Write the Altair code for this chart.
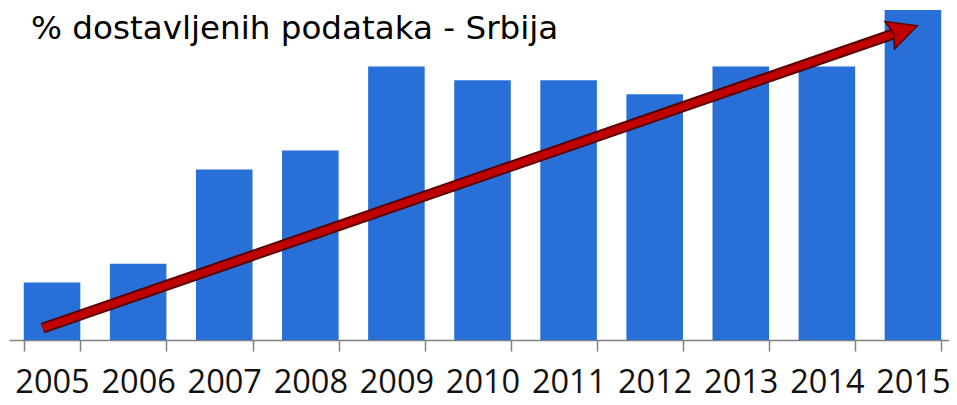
import altair as alt
import pandas as pd

years = ["2005", "2006", "2007", "2008", "2009", "2010", "2011", "2012", "2013", "2014", "2015"]
values = [17.4, 23.1, 51.7, 57.4, 82.9, 78.7, 78.7, 74.5, 82.9, 82.9, 100.0]
title_text = ["% dostavljenih podataka - Srbija"]

# arrow (x in band-index units, y in value units)
arrow_x = [0.39, 10.39]
arrow_y = [3.6, 93.8]
head_x = [10.39]
head_y = [93.8]

bars_df = pd.DataFrame({"year": years, "value": values})
arrow_df = pd.DataFrame({"x": arrow_x, "y": arrow_y})
head_df = pd.DataFrame({"x": head_x, "y": head_y})

W, H = 940, 330
XR = [0, 947]
ydom = alt.Scale(domain=[0, 100], nice=False, zero=True)

bars = alt.Chart(bars_df).mark_bar(color="#2870d8").encode(
    x=alt.X("year:N", sort=years, title=None,
            scale=alt.Scale(paddingInner=0.343, paddingOuter=0.1715, range=XR),
            axis=alt.Axis(labelAngle=0, labelFont="Open Sans", labelFontSize=32.5,
                          labelColor="#111111", labelPadding=15, tickBand="extent",
                          tickSize=11, tickColor="#808080", domainColor="#808080",
                          tickWidth=1.5, domainWidth=1.5, grid=False)),
    y=alt.Y("value:Q", scale=ydom, axis=None),
)

xq = alt.Scale(domain=[0, 11], nice=False, zero=False, range=XR)
arrow_outer = alt.Chart(arrow_df).mark_line(color="#5a0000", strokeWidth=11, strokeCap="butt").encode(
    x=alt.X("x:Q", scale=xq, axis=None),
    y=alt.Y("y:Q", scale=ydom, axis=None),
)
arrow_inner = alt.Chart(arrow_df).mark_line(color="#c00000", strokeWidth=7, strokeCap="butt").encode(
    x=alt.X("x:Q", scale=xq, axis=None),
    y=alt.Y("y:Q", scale=ydom, axis=None),
)
head = alt.Chart(head_df).mark_point(
    shape="M -1 -1 L 1 0 L -1 1 L -0.7 0 Z", filled=True, fill="#c00000", stroke="#5a0000",
    strokeWidth=1.5, opacity=1, size=850, angle=341,
).encode(
    x=alt.X("x:Q", scale=xq, axis=None),
    y=alt.Y("y:Q", scale=ydom, axis=None),
)

title = alt.Chart(pd.DataFrame({"t": title_text})).mark_text(
    font="DejaVu Sans", fontSize=32.6, color="#000000", align="left", baseline="alphabetic"
).encode(text="t:N", x=alt.value(22), y=alt.value(28.5))

chart = alt.layer(bars, arrow_outer, arrow_inner, head, title).resolve_scale(
    x="independent"
).properties(
    width=W, height=H,
    background="white",
    autosize=alt.AutoSizeParams(type="none"),
    padding={"left": 1, "top": 2, "right": 0, "bottom": 57},
).configure_view(strokeWidth=0, stroke="transparent")

chart.save("out.html", embed_options={"renderer": "svg", "actions": False})
